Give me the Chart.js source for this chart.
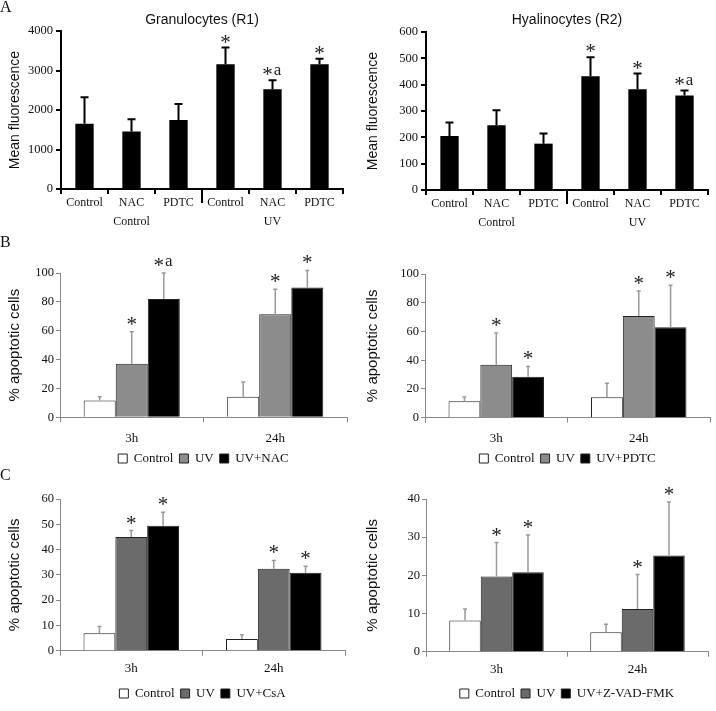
<!DOCTYPE html>
<html>
<head>
<meta charset="utf-8">
<script src="https://cdn.jsdelivr.net/npm/chart.js@4.4.1/dist/chart.umd.min.js"></script>
<style>
  body { margin: 0; background: #fff; width: 716px; height: 711px; position: relative; overflow: hidden; }
  canvas { position: absolute; }
</style>
</head>
<body>
<canvas id="aLeft" width="358" height="235" style="left:0;top:0"></canvas>
<canvas id="aRight" width="358" height="235" style="left:358px;top:0"></canvas>
<canvas id="bLeft" width="358" height="240" style="left:0;top:235px"></canvas>
<canvas id="bRight" width="358" height="240" style="left:358px;top:235px"></canvas>
<canvas id="cLeft" width="358" height="245" style="left:0;top:466px"></canvas>
<canvas id="cRight" width="358" height="245" style="left:358px;top:466px"></canvas>
<script>
// ---- data ----
const aLabels = ['Control', 'NAC', 'PDTC', 'Control', 'NAC', 'PDTC'];
const aGroups = ['Control', 'UV'];
const granMean = [1650, 1455, 1750, 3160, 2525, 3160];
const granErr = [675, 310, 405, 420, 230, 135];
const granSig = ['', '', '', '*', '*a', '*'];
const hyalMean = [205, 246, 176, 432, 383, 359];
const hyalErr = [51, 57, 39, 72, 59, 19];
const hyalSig = ['', '', '', '*', '*', '*a'];

const timeLabels = ['3h', '24h'];

// B left: NAC
const nacCtrl = [11.6, 14.3], nacCtrlErr = [2.7, 10.1];
const nacUV = [37.1, 71.4], nacUVErr = [22.2, 17.4];
const nacDrug = [81.9, 89.9], nacDrugErr = [18.1, 11.9];
// B right: PDTC
const pdtcCtrl = [11.5, 14.2], pdtcCtrlErr = [2.9, 9.8];
const pdtcUV = [36.9, 70.8], pdtcUVErr = [22.0, 17.3];
const pdtcDrug = [28.5, 62.9], pdtcDrugErr = [7.2, 29.2];
// C left: CsA
const csaCtrl = [6.9, 4.6], csaCtrlErr = [2.7, 1.7];
const csaUV = [45.0, 32.4], csaUVErr = [2.5, 3.3];
const csaDrug = [49.4, 30.8], csaDrugErr = [5.4, 2.6];
// C right: Z-VAD-FMK
const zvadCtrl = [8.2, 5.1], zvadCtrlErr = [3.0, 2.1];
const zvadUV = [19.7, 11.2], zvadUVErr = [8.9, 9.0];
const zvadDrug = [20.8, 25.2], zvadDrugErr = [9.8, 14.0];

Chart.defaults.font.family = "'Liberation Serif', 'Times New Roman', serif";
Chart.defaults.color = '#111';
Chart.defaults.animation = false;
const SANS = "'Liberation Sans', Arial, sans-serif";
const SERIF = "'Liberation Serif', serif";

function drawSig(ctx, x, yc, s) {
  ctx.fillStyle = '#222';
  ctx.textAlign = 'center';
  ctx.textBaseline = 'alphabetic';
  ctx.font = '21px ' + SERIF;
  const st = ctx.measureText('*');
  const stOff = (st.actualBoundingBoxAscent - st.actualBoundingBoxDescent) / 2;
  if (s === '*') {
    ctx.fillText('*', x, yc + stOff);
    return;
  }
  ctx.fillText('*', x - 5, yc + stOff);
  ctx.font = '17px ' + SERIF;
  const a = ctx.measureText('a');
  const aOff = (a.actualBoundingBoxAscent - a.actualBoundingBoxDescent) / 2;
  ctx.fillText('a', x + 5, yc + aOff);
}

// error bars (upper only) + significance marks
function errorBars(color, width, cap, gap) {
  return {
    id: 'errorBars',
    afterDatasetsDraw(chart) {
      const ctx = chart.ctx, ys = chart.scales.y;
      ctx.save();
      chart.data.datasets.forEach((ds, di) => {
        chart.getDatasetMeta(di).data.forEach((bar, i) => {
          const top = ys.getPixelForValue(ds.data[i] + ds.errors[i]);
          ctx.strokeStyle = color;
          ctx.lineWidth = width;
          ctx.beginPath();
          ctx.moveTo(bar.x, bar.y);
          ctx.lineTo(bar.x, top);
          ctx.moveTo(bar.x - cap, top);
          ctx.lineTo(bar.x + cap, top);
          ctx.stroke();
          if (ds.sig && ds.sig[i]) drawSig(ctx, bar.x, top - gap, ds.sig[i]);
        });
      });
      ctx.restore();
    }
  };
}

function heading(letter, letterY, title) {
  return {
    id: 'heading',
    afterDraw(chart) {
      const ctx = chart.ctx, a = chart.chartArea;
      ctx.save();
      ctx.fillStyle = '#111';
      if (letter) {
        ctx.font = '16px ' + SERIF;
        ctx.textAlign = 'left';
        ctx.textBaseline = 'alphabetic';
        ctx.fillText(letter, 0, letterY);
      }
      if (title) {
        ctx.font = '14px ' + SANS;
        ctx.textAlign = 'center';
        ctx.textBaseline = 'middle';
        ctx.fillText(title, (a.left + a.right) / 2, 20);
      }
      ctx.restore();
    }
  };
}

// second row of x labels for panel A (Control / UV) + long separator
const groupRow = {
  id: 'groupRow',
  afterDraw(chart) {
    const ctx = chart.ctx, xs = chart.scales.x, a = chart.chartArea;
    const sep = (xs.getPixelForValue(2) + xs.getPixelForValue(3)) / 2;
    ctx.save();
    ctx.strokeStyle = '#000';
    ctx.lineWidth = 2;
    ctx.beginPath();
    ctx.moveTo(sep, a.bottom);
    ctx.lineTo(sep, a.bottom + 14);
    ctx.stroke();
    ctx.font = '12px ' + SERIF;
    ctx.fillStyle = '#111';
    ctx.textAlign = 'center';
    ctx.textBaseline = 'middle';
    ctx.fillText(aGroups[0], xs.getPixelForValue(1), a.bottom + 33);
    ctx.fillText(aGroups[1], xs.getPixelForValue(4), a.bottom + 33);
    ctx.restore();
  }
};

function panelA(id, mean, err, sig, max, step, yW, pad, title, letter) {
  new Chart(document.getElementById(id), {
    type: 'bar',
    data: {
      labels: aLabels,
      datasets: [{ data: mean, errors: err, sig: sig, backgroundColor: '#000', borderWidth: 0 }]
    },
    options: {
      responsive: false,
      layout: { padding: pad },
      categoryPercentage: 1,
      barPercentage: 0.39,
      plugins: { legend: { display: false }, tooltip: { enabled: false } },
      scales: {
        x: {
          grid: { drawOnChartArea: false, tickLength: 5, color: '#000', lineWidth: 2 },
          border: { color: '#000', width: 2 },
          ticks: { font: { size: 12 }, padding: 2, maxRotation: 0, autoSkip: false, color: '#111' },
          afterFit: s => { s.height = 40; }
        },
        y: {
          min: 0, max: max,
          ticks: { stepSize: step, font: { size: 12.5 }, padding: 3, color: '#111', callback: v => String(v) },
          grid: { drawOnChartArea: false, tickLength: 5, color: '#000', lineWidth: 2 },
          border: { color: '#000', width: 2 },
          title: { display: true, text: 'Mean fluorescence', font: { family: SANS, size: 14 }, color: '#111', padding: { top: 7, bottom: 0 } },
          afterFit: s => { s.width = yW; }
        }
      }
    },
    plugins: [errorBars('#000', 2, 4, 9), heading(letter, 12, title), groupRow]
  });
}

panelA('aLeft', granMean, granErr, granSig, 4000, 1000, 61, { left: 0, right: 15, top: 31, bottom: 6 }, 'Granulocytes (R1)', 'A');
panelA('aRight', hyalMean, hyalErr, hyalSig, 600, 100, 68, { left: 0, right: 8, top: 32, bottom: 5 }, 'Hyalinocytes (R2)', '');

function panelBC(id, sets, names, uvColor, max, step, yW, xH, tickPad, pad, letter, letterY) {
  const fills = ['#fff', uvColor, '#000'];
  new Chart(document.getElementById(id), {
    type: 'bar',
    data: {
      labels: timeLabels,
      datasets: sets.map((s, k) => ({
        label: names[k], data: s[0], errors: s[1], sig: s[2],
        backgroundColor: fills[k], borderColor: '#222', borderWidth: 1
      }))
    },
    options: {
      responsive: false,
      layout: { padding: pad },
      categoryPercentage: 0.67,
      barPercentage: 1,
      plugins: {
        tooltip: { enabled: false },
        legend: {
          position: 'bottom', fullSize: false,
          labels: { boxWidth: 9, boxHeight: 9, padding: 6, font: { size: 13 }, color: '#111' }
        }
      },
      scales: {
        x: {
          grid: { drawOnChartArea: false, tickLength: 5, color: '#888' },
          border: { color: '#888' },
          ticks: { font: { size: 13 }, padding: tickPad, color: '#111' },
          afterFit: s => { s.height = xH; }
        },
        y: {
          min: 0, max: max,
          ticks: { stepSize: step, font: { size: 12.5 }, padding: 2, color: '#111' },
          grid: { drawOnChartArea: false, tickLength: 4, color: '#888' },
          border: { color: '#888' },
          title: { display: true, text: '% apoptotic cells', font: { family: SANS, size: 15 }, color: '#111', padding: { top: 6, bottom: 0 } },
          afterFit: s => { s.width = yW; }
        }
      }
    },
    plugins: [errorBars('#9a9a9a', 1.5, 2, 11), heading(letter, letterY, '')]
  });
}

panelBC('bLeft',
  [[nacCtrl, nacCtrlErr, ['', '']], [nacUV, nacUVErr, ['*', '*']], [nacDrug, nacDrugErr, ['*a', '*']]],
  ['Control', 'UV', 'UV+NAC'], '#8c8c8c', 100, 20, 60, 28.7, 8,
  { left: 0, right: 11, top: 38, bottom: 0 }, 'B', 12);

panelBC('bRight',
  [[pdtcCtrl, pdtcCtrlErr, ['', '']], [pdtcUV, pdtcUVErr, ['*', '*']], [pdtcDrug, pdtcDrugErr, ['*', '*']]],
  ['Control', 'UV', 'UV+PDTC'], '#8c8c8c', 100, 20, 67, 28.3, 8,
  { left: 0, right: 6, top: 39, bottom: 0 }, '', 0);

panelBC('cLeft',
  [[csaCtrl, csaCtrlErr, ['', '']], [csaUV, csaUVErr, ['*', '*']], [csaDrug, csaDrugErr, ['*', '*']]],
  ['Control', 'UV', 'UV+CsA'], '#6b6b6b', 60, 10, 60, 30.3, 5,
  { left: 0, right: 13, top: 33, bottom: 1 }, 'C', 14);

panelBC('cRight',
  [[zvadCtrl, zvadCtrlErr, ['', '']], [zvadUV, zvadUVErr, ['*', '*']], [zvadDrug, zvadDrugErr, ['*', '*']]],
  ['Control', 'UV', 'UV+Z-VAD-FMK'], '#6b6b6b', 40, 10, 68, 29.3, 5,
  { left: 0, right: 8, top: 33, bottom: 1 }, '', 0);
</script>
</body>
</html>
